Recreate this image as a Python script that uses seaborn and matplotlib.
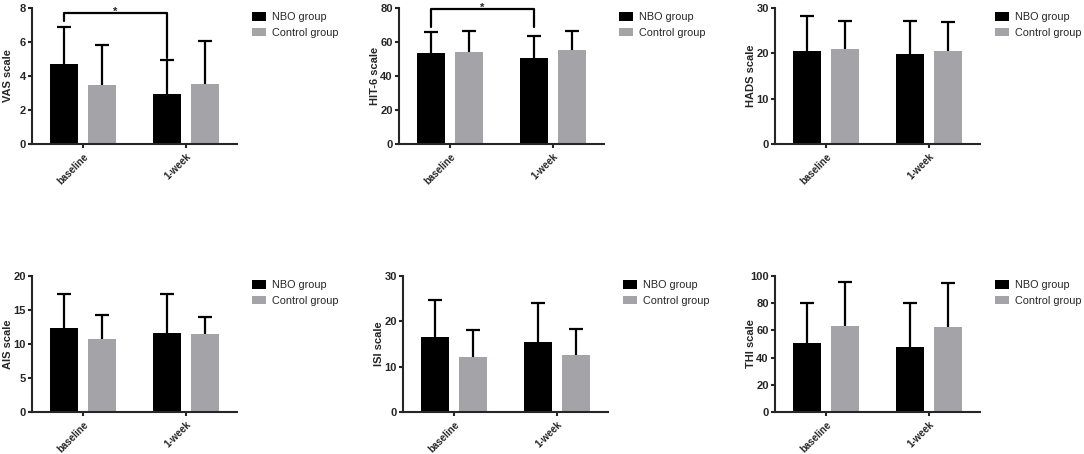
import pandas as pd
import seaborn as sns
import matplotlib.pyplot as plt
import numpy as np

# Data (mean and SD)
times = ["baseline", "1-week"]
groups = ["NBO group", "Control group"]

vas_mean = [4.72, 3.45, 2.94, 3.55]
vas_sd = [2.15, 2.37, 2.0, 2.5]
hit_mean = [53.6, 54.3, 50.5, 55.1]
hit_sd = [12.0, 11.9, 12.9, 11.2]
hads_mean = [20.6, 21.0, 19.8, 20.6]
hads_sd = [7.7, 6.2, 7.3, 6.3]
ais_mean = [12.3, 10.8, 11.6, 11.4]
ais_sd = [5.0, 3.4, 5.7, 2.6]
isi_mean = [16.6, 12.1, 15.4, 12.6]
isi_sd = [8.1, 5.9, 8.7, 5.8]
thi_mean = [50.7, 63.0, 48.0, 62.5]
thi_sd = [29.7, 32.6, 32.4, 32.4]

# order of values above: NBO baseline, Control baseline, NBO 1-week, Control 1-week
panels = [
    ("VAS scale", vas_mean, vas_sd, 8, 2, True),
    ("HIT-6 scale", hit_mean, hit_sd, 80, 20, True),
    ("HADS scale", hads_mean, hads_sd, 30, 10, False),
    ("AIS scale", ais_mean, ais_sd, 20, 5, False),
    ("ISI scale", isi_mean, isi_sd, 30, 10, False),
    ("THI scale", thi_mean, thi_sd, 100, 20, False),
]
# brackets (top, left leg end, right leg end) for the significant panels
brackets = {"VAS scale": (7.72, 7.25, 5.05), "HIT-6 scale": (79.5, 68.8, 68.8)}

sns.set_style("ticks")
plt.rcParams["font.family"] = ["Liberation Sans", "DejaVu Sans"]
plt.rcParams["axes.linewidth"] = 1.5
plt.rcParams["xtick.major.width"] = 1.5
plt.rcParams["ytick.major.width"] = 1.5
plt.rcParams["xtick.major.size"] = 3
plt.rcParams["ytick.major.size"] = 3
plt.rcParams["ytick.major.pad"] = 1.5
plt.rcParams["xtick.major.pad"] = 2.5

palette = {"NBO group": "#000000", "Control group": "#a4a4a8"}

W, H = 1084, 454
fig = plt.figure(figsize=(W / 100, H / 100), dpi=100)
lefts = [[32, 399, 775], [32, 403, 775]]
tops = [8, 276]

for i, (label, means, sds, ymax, step, sig) in enumerate(panels):
    r, c = divmod(i, 3)
    left = lefts[r][c]
    ax = fig.add_axes([left / W, 1 - (tops[r] + 136) / H, 205 / W, 136 / H])

    df = pd.DataFrame({
        "time": [times[0], times[0], times[1], times[1]],
        "group": [groups[0], groups[1], groups[0], groups[1]],
        "value": means,
        "sd": sds,
    })
    sns.barplot(data=df, x="time", y="value", hue="group", order=times,
                hue_order=groups, palette=palette, errorbar=None,
                width=0.75, gap=0.27, saturation=1, linewidth=0, ax=ax)

    centers = {}
    for g, cont in zip(groups, ax.containers):
        for t, bar in zip(times, cont):
            x = bar.get_x() + bar.get_width() / 2
            centers[(g, t)] = x
            row = df[(df.group == g) & (df.time == t)].iloc[0]
            eb = ax.errorbar(x, row.value, yerr=[[0], [row.sd]], fmt="none",
                             ecolor="black", elinewidth=1.6, capsize=5,
                             capthick=1.6, zorder=1)
            # keep only the upper cap
            for cap in eb[1]:
                if np.isclose(cap.get_ydata()[0], row.value):
                    cap.set_visible(False)

    if sig:
        top, l_end, r_end = brackets[label]
        x0 = centers[("NBO group", "baseline")]
        x1 = centers[("NBO group", "1-week")]
        ax.plot([x0, x0, x1, x1], [l_end, top, top, r_end], color="black",
                lw=1.6, clip_on=False)
        ax.annotate("*", xy=((x0 + x1) / 2, top), xytext=(0, 1),
                    textcoords="offset points", ha="center", va="center",
                    fontsize=8, fontweight="bold", annotation_clip=False)

    ax.set_xlim(-0.5, 1.5)
    ax.set_ylim(0, ymax)
    ax.set_yticks(np.arange(0, ymax + step / 2, step))
    ax.set_xlabel("")
    ax.set_ylabel(label, fontsize=8, fontweight="bold")
    ax.yaxis.set_label_coords(-19 / 205, 0.5)
    ax.tick_params(axis="y", labelsize=8)
    ax.tick_params(axis="x", labelsize=7)
    for t in ax.get_yticklabels():
        t.set_fontweight("bold")
    ax.set_xticks(range(len(times)))
    ax.set_xticklabels(times, rotation=45, ha="right", rotation_mode="anchor",
                       fontweight="bold")
    sns.despine(ax=ax)

    ax.legend(loc="upper left", bbox_to_anchor=(1.05, 1.0), frameon=False,
              borderaxespad=0, fontsize=7.8, handlelength=1.35,
              handleheight=0.8, handletextpad=0.5, labelspacing=0.5)

fig.savefig("out.png", dpi=100)
